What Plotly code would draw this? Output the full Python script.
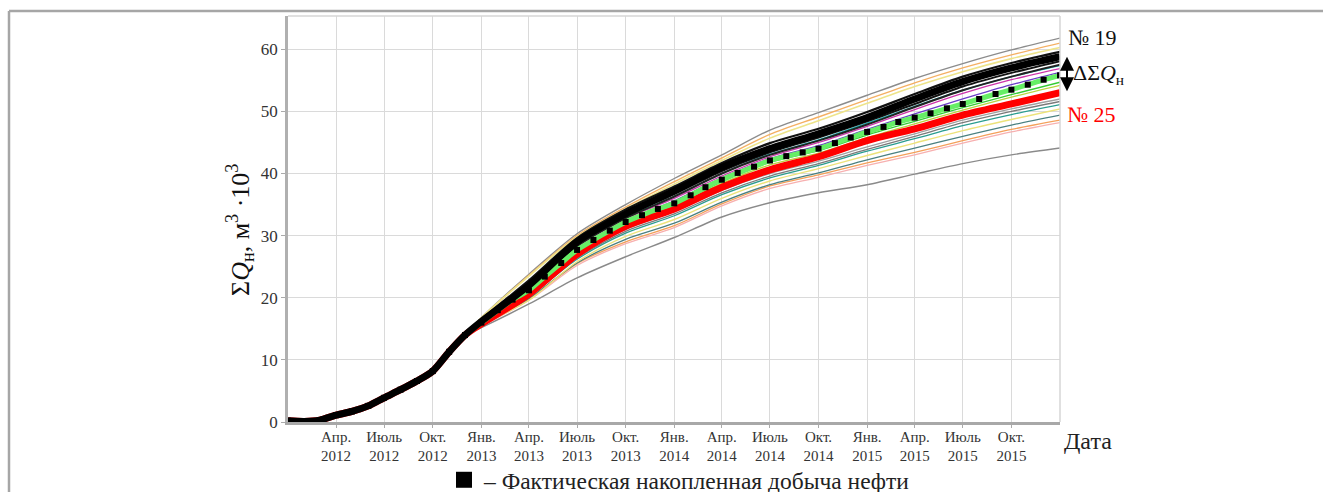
import pandas as pd
import plotly.graph_objects as go

# ---------------- data ----------------
hist_months = pd.date_range("2012-01-01", periods=12, freq="MS")          # Jan 2012 .. Dec 2012
fc_quarters = pd.date_range("2013-01-01", "2016-01-01", freq="QS")        # Jan 2013 .. Jan 2016
all_months = pd.date_range("2012-01-01", "2016-01-01", freq="MS")         # Jan 2012 .. Jan 2016

# common history (all models matched), thousand m3
hist_values = [0.2, 0.1, 0.3, 1.1, 1.7, 2.6, 3.9, 5.2, 6.6, 8.2, 11.3, 14.0]

# forecasts, quarterly from Jan 2013 to Jan 2016
gray_top     = [16.8, 23.8, 30.3, 35.0, 39.2, 43.0, 47.0, 49.8, 52.6, 55.3, 57.7, 59.9, 61.8]
orange_top   = [16.7, 23.6, 30.0, 34.6, 38.7, 42.5, 46.3, 49.1, 51.9, 54.6, 57.0, 59.1, 61.0]
yellow_top   = [16.8, 23.5, 29.8, 34.3, 38.3, 42.1, 45.7, 48.5, 51.3, 54.0, 56.4, 58.5, 60.3]
black_thin_1 = [16.5, 22.8, 29.6, 34.2, 37.9, 41.7, 44.9, 47.2, 49.9, 52.8, 55.6, 57.8, 59.6]
black_thin_2 = [16.1, 21.8, 28.6, 33.1, 36.7, 40.4, 43.4, 45.8, 48.4, 51.2, 54.0, 56.2, 58.1]
black_thin_3 = [16.0, 21.6, 28.3, 32.8, 36.3, 40.0, 43.0, 45.3, 47.9, 50.7, 53.4, 55.6, 57.5]
cyan_line    = [16.1, 21.7, 28.4, 32.9, 36.3, 40.0, 43.1, 45.4, 48.1, 50.8, 53.4, 55.6, 57.4]
magenta_line = [16.0, 21.5, 28.2, 32.7, 36.0, 39.6, 42.7, 45.0, 47.6, 50.3, 52.9, 55.1, 56.9]
purple_line  = [15.9, 21.3, 27.9, 32.4, 35.6, 39.3, 42.4, 44.5, 47.1, 49.6, 52.0, 54.3, 56.3]
green_line   = [15.9, 21.1, 27.6, 32.0, 35.0, 38.7, 41.8, 43.7, 46.2, 48.4, 50.6, 52.7, 54.7]
lime_line    = [15.9, 21.0, 27.4, 31.8, 34.8, 38.4, 41.4, 43.3, 45.8, 48.0, 50.2, 52.3, 54.2]
gray_mid_1   = [15.8, 20.4, 26.6, 31.0, 33.9, 37.3, 40.0, 42.0, 44.3, 46.4, 48.6, 50.4, 52.0]
gray_mid_2   = [15.7, 20.3, 26.4, 30.7, 33.5, 36.9, 39.6, 41.6, 43.9, 46.0, 48.2, 50.0, 51.6]
teal_line    = [15.7, 20.2, 26.2, 30.4, 33.2, 36.6, 39.3, 41.3, 43.6, 45.6, 47.7, 49.5, 51.1]
yellow_low   = [15.6, 19.6, 25.8, 29.9, 32.6, 36.0, 38.8, 40.8, 42.9, 44.9, 46.9, 48.7, 50.4]
dark_teal    = [15.5, 19.9, 25.6, 29.4, 32.0, 35.4, 38.2, 40.1, 42.2, 44.1, 46.0, 47.8, 49.4]
orange_low   = [15.5, 19.8, 25.5, 29.0, 31.6, 35.1, 38.0, 39.8, 41.7, 43.4, 45.3, 47.1, 48.6]
pink_line    = [15.4, 19.6, 25.2, 28.7, 31.3, 34.8, 37.6, 39.4, 41.3, 43.0, 44.9, 46.7, 48.2]
gray_bottom  = [15.2, 19.0, 23.2, 26.6, 29.7, 33.0, 35.3, 36.9, 38.2, 39.9, 41.6, 43.0, 44.1]
well_19      = [16.2, 22.0, 29.0, 33.5, 37.2, 41.0, 44.0, 46.4, 49.0, 52.0, 54.8, 57.0, 58.8]
well_25      = [15.8, 20.6, 27.0, 31.5, 34.3, 37.8, 40.6, 42.7, 45.3, 47.2, 49.4, 51.2, 53.0]

# actual cumulative production, monthly Jan 2013 .. Jan 2016
actual_fc = [16.0, 18.0, 19.7, 21.2, 23.4, 25.6, 27.7, 29.3, 30.8, 32.2, 33.3, 34.3,
             35.2, 36.5, 37.8, 39.0, 40.1, 41.1, 42.1, 42.8, 43.4, 44.0, 44.9, 45.8,
             46.7, 47.5, 48.3, 49.0, 49.7, 50.5, 51.2, 52.0, 52.8, 53.5, 54.3, 55.1, 55.8]

tick_dates = ["2012-04-01", "2012-07-01", "2012-10-01", "2013-01-01", "2013-04-01",
              "2013-07-01", "2013-10-01", "2014-01-01", "2014-04-01", "2014-07-01",
              "2014-10-01", "2015-01-01", "2015-04-01", "2015-07-01", "2015-10-01"]
tick_text = ["Апр.<br>2012", "Июль<br>2012", "Окт.<br>2012", "Янв.<br>2013", "Апр.<br>2013",
             "Июль<br>2013", "Окт.<br>2013", "Янв.<br>2014", "Апр.<br>2014", "Июль<br>2014",
             "Окт.<br>2014", "Янв.<br>2015", "Апр.<br>2015", "Июль<br>2015", "Окт.<br>2015"]
y_ticks = [0, 10, 20, 30, 40, 50, 60]

# ---------------- figure ----------------
FONT = "Liberation Serif, Times New Roman, serif"
model_x = list(hist_months) + list(fc_quarters)
actual_x = list(all_months)

thin_lines = [
    (gray_top, "#8c8c8c", 1.4), (orange_top, "#f5b063", 1.4), (yellow_top, "#eee48a", 1.6),
    (gray_bottom, "#8a8a8a", 1.4), (pink_line, "#f7b0b0", 1.3), (orange_low, "#f4a05a", 1.3),
    (dark_teal, "#4a8080", 1.3), (yellow_low, "#ece27a", 1.4), (teal_line, "#2a9d8f", 1.3),
    (gray_mid_2, "#7a7a7a", 1.3), (gray_mid_1, "#a0a0a0", 1.3), (lime_line, "#b8d43c", 1.3),
    (green_line, "#33cc33", 1.3), (purple_line, "#6a3dc8", 1.3), (magenta_line, "#cc33aa", 1.3),
    (cyan_line, "#17bfbf", 1.4), (black_thin_3, "#222222", 2.0), (black_thin_2, "#111111", 2.0),
    (black_thin_1, "#111111", 2.2),
]

fig = go.Figure()
for vals, col, w in thin_lines:
    fig.add_trace(go.Scatter(x=model_x, y=hist_values + vals, mode="lines",
                             line=dict(color=col, width=w, shape="spline", smoothing=0.8),
                             showlegend=False, hoverinfo="skip"))

fig.add_trace(go.Scatter(x=model_x, y=hist_values + well_25, mode="lines",
                         line=dict(color="#ff0000", width=7, shape="spline", smoothing=0.8),
                         showlegend=False, hoverinfo="skip"))
fig.add_trace(go.Scatter(x=actual_x, y=hist_values + actual_fc, mode="lines",
                         line=dict(color="#66ee66", width=5, shape="spline", smoothing=0.6),
                         showlegend=False, hoverinfo="skip"))
fig.add_trace(go.Scatter(x=actual_x, y=hist_values + actual_fc, mode="markers",
                         marker=dict(symbol="square", size=6, color="#000000"),
                         showlegend=False, hoverinfo="skip"))
fig.add_trace(go.Scatter(x=model_x, y=hist_values + well_19, mode="lines",
                         line=dict(color="#000000", width=7, shape="spline", smoothing=0.8),
                         showlegend=False, hoverinfo="skip"))
# legend entry
fig.add_trace(go.Scatter(x=[None], y=[None], mode="markers",
                         marker=dict(symbol="square", size=16, color="#000000"),
                         name="– Фактическая накопленная добыча нефти", showlegend=True))

# plot area on the page: x 288..1060 px, y 16..422 px
def px_x(p):
    return (p - 288) / 772.0

def px_y(p):
    return (422 - p) / 406.0

fig.update_layout(
    width=1323, height=492,
    margin=dict(l=288, r=263, t=16, b=70, autoexpand=False),
    paper_bgcolor="white", plot_bgcolor="white",
    font=dict(family=FONT, color="#222222"),
    showlegend=True,
    legend=dict(orientation="h", x=px_x(444), xanchor="left", y=px_y(480), yanchor="middle",
                font=dict(family=FONT, size=23.5, color="#222222"), bgcolor="rgba(0,0,0,0)",
                itemclick=False),
    xaxis=dict(type="date", range=["2012-01-01", "2016-01-01"],
               tickvals=tick_dates, ticktext=tick_text,
               tickfont=dict(family=FONT, size=15, color="#333333"),
               ticks="outside", ticklen=3, tickcolor="#aaaaaa", ticklabelstandoff=-4,
               showgrid=True, gridcolor="#dadada", gridwidth=1,
               showline=True, linecolor="#a8a8a8", linewidth=2.5, zeroline=False),
    yaxis=dict(range=[0, 65.36], tickvals=y_ticks,
               tickfont=dict(family=FONT, size=17, color="#333333"),
               ticks="outside", ticklen=4, tickcolor="#aaaaaa",
               showgrid=True, gridcolor="#dadada", gridwidth=1,
               showline=True, linecolor="#b0b0b0", linewidth=2.5, zeroline=False),
    shapes=[
        # top and right border of plot area
        dict(type="line", xref="paper", yref="paper", x0=0, x1=1, y0=1, y1=1,
             line=dict(color="#d6d6d6", width=1.5)),
        dict(type="line", xref="paper", yref="paper", x0=1, x1=1, y0=0, y1=1,
             line=dict(color="#d6d6d6", width=1.5)),
        # outer frame (top and left)
        dict(type="line", xref="paper", yref="paper", x0=px_x(9), x1=px_x(1330),
             y0=px_y(11), y1=px_y(11), line=dict(color="#a6a6a6", width=2.5)),
        dict(type="line", xref="paper", yref="paper", x0=px_x(9), x1=px_x(9),
             y0=px_y(11), y1=px_y(500), line=dict(color="#a6a6a6", width=2.5)),
    ],
    annotations=[
        dict(text="Σ<i>Q</i><sub>н</sub>, м<sup>3</sup> ·10<sup>3</sup>", textangle=-90,
             xref="paper", yref="paper", x=px_x(240), y=px_y(230),
             xanchor="center", yanchor="middle", showarrow=False,
             font=dict(family=FONT, size=26, color="#111111")),
        dict(text="Дата", xref="paper", yref="paper", x=px_x(1062), y=px_y(441),
             xanchor="left", yanchor="middle", showarrow=False,
             font=dict(family=FONT, size=24, color="#222222")),
        dict(text="№ 19", xref="paper", yref="paper", x=px_x(1066), y=px_y(37),
             xanchor="left", yanchor="middle", showarrow=False,
             font=dict(family=FONT, size=22, color="#111111")),
        dict(text="ΔΣ<i>Q</i><sub>н</sub>", xref="paper", yref="paper", x=px_x(1071), y=px_y(74),
             xanchor="left", yanchor="middle", showarrow=False,
             font=dict(family=FONT, size=22, color="#111111")),
        dict(text="№ 25", xref="paper", yref="paper", x=px_x(1065), y=px_y(115),
             xanchor="left", yanchor="middle", showarrow=False,
             font=dict(family=FONT, size=22, color="#ff0000")),
        dict(text="", xref="paper", yref="y", x=px_x(1067), y=well_19[-1],
             ax=0, ay=(well_19[-1] - well_25[-1]) * 6.212, axref="pixel", ayref="pixel",
             showarrow=True, arrowside="end+start", arrowhead=2, startarrowhead=2,
             arrowsize=1.4, startarrowsize=1.4, arrowwidth=2, arrowcolor="#000000",
             standoff=0, startstandoff=0),
    ],
)

# remove the default 8 px page margin so the figure fills the 1323x492 window exactly
fig.write_html("out.html", config={"displayModeBar": False},
               post_script="document.body.style.margin='0';")
